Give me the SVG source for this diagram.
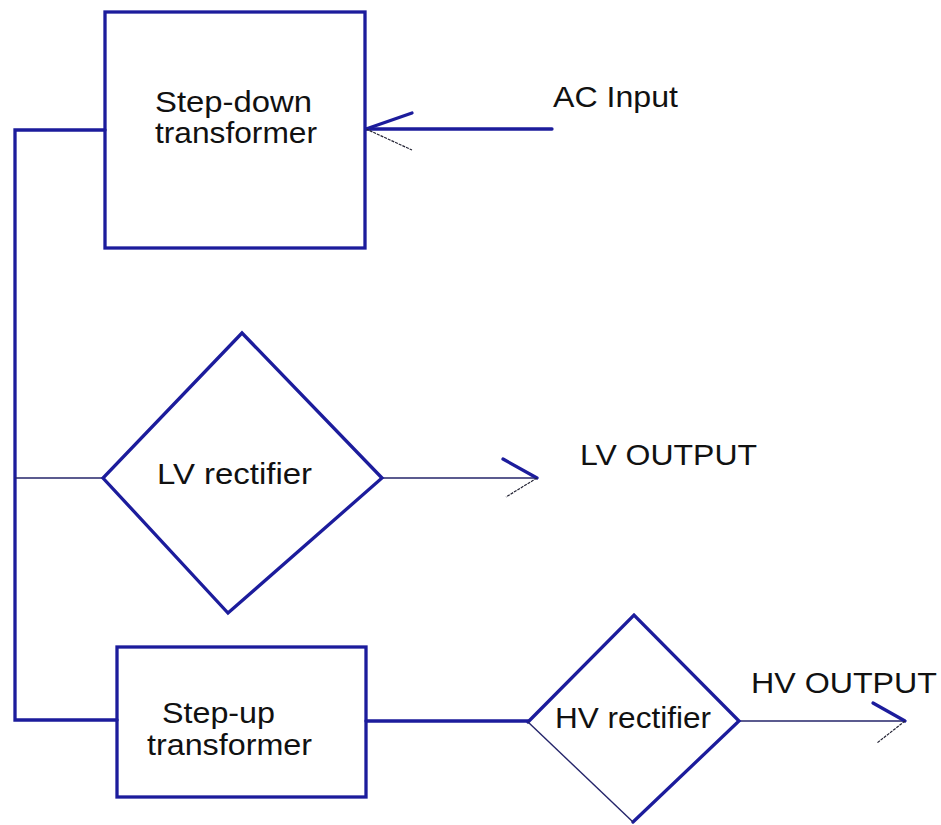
<svg xmlns="http://www.w3.org/2000/svg" width="941" height="825" viewBox="0 0 941 825">
<style>
.thick{fill:none;stroke:#1c1c9c;stroke-width:3.3;stroke-linecap:round;stroke-linejoin:miter}
.thin{fill:none;stroke:#24246a;stroke-width:1.4}
.faint{fill:none;stroke:#222233;stroke-width:1.2;stroke-dasharray:3 1}
.lbl{font-family:"Liberation Sans",Arial,sans-serif;font-size:29px;fill:#111}
</style>
<rect width="941" height="825" fill="#ffffff"/>
<g id="connectors">
<path class="thick" d="M105 130 H15 V720 H117"/>
<path class="thick" d="M552 129 H366"/>
<path class="thick" d="M366 129 L412 113"/>
<path class="faint" d="M366 129 L412 150"/>
<path class="thin" d="M15 478 H103"/>
<path class="thin" d="M382 478 H537"/>
<path class="thick" d="M537 478 L503 459"/>
<path class="faint" d="M537 478 L506 497"/>
<path class="thick" d="M366 721 H528"/>
<path class="thin" d="M739 721 H905"/>
<path class="thick" d="M905 721 L873 703"/>
<path class="faint" d="M905 721 L877 743"/>
</g>
<g id="step-down">
<rect class="thick" x="105" y="12" width="260" height="236"/>
<text class="lbl" x="155" y="112" textLength="157" lengthAdjust="spacingAndGlyphs">Step-down</text>
<text class="lbl" x="155" y="143" textLength="162" lengthAdjust="spacingAndGlyphs">transformer</text>
</g>
<g id="ac-input">
<text class="lbl" x="553" y="107" textLength="125" lengthAdjust="spacingAndGlyphs">AC Input</text>
</g>
<g id="lv-rectifier">
<polygon class="thick" fill="#fff" points="242,333 382,478 228,613 103,478"/>
<text class="lbl" x="157" y="484" textLength="155" lengthAdjust="spacingAndGlyphs">LV rectifier</text>
</g>
<g id="lv-output">
<text class="lbl" x="580" y="465" textLength="177" lengthAdjust="spacingAndGlyphs">LV OUTPUT</text>
</g>
<g id="step-up">
<rect class="thick" x="117" y="647" width="249" height="150"/>
<text class="lbl" x="162" y="723" textLength="113" lengthAdjust="spacingAndGlyphs">Step-up</text>
<text class="lbl" x="147" y="755" textLength="165" lengthAdjust="spacingAndGlyphs">transformer</text>
</g>
<g id="hv-rectifier">
<path class="thick" d="M528 722 L634 615 L739 721 L633 822"/>
<path class="thin" d="M528 722 L633 822"/>
<text class="lbl" x="555" y="728" textLength="156" lengthAdjust="spacingAndGlyphs">HV rectifier</text>
</g>
<g id="hv-output">
<text class="lbl" x="751" y="693" textLength="186" lengthAdjust="spacingAndGlyphs">HV OUTPUT</text>
</g>
</svg>
